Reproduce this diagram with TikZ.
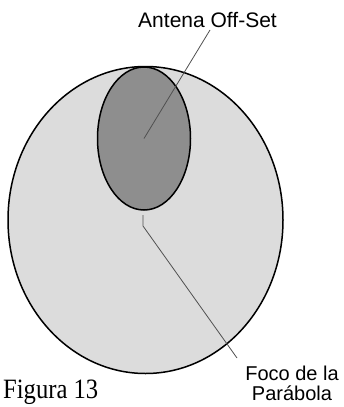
\documentclass[tikz,border=0pt]{standalone}
\usepackage{fontspec}
\setmainfont{Liberation Sans}
\newfontfamily\figserif{Liberation Serif}
\usetikzlibrary{shapes.geometric}
\definecolor{biggray}{HTML}{DCDCDC}
\definecolor{smallgray}{HTML}{8E8E8E}
\definecolor{leadgray}{HTML}{505050}
\tikzset{
  dish/.style={ellipse, draw=black, line width=1.5pt, inner sep=0pt},
  lead/.style={draw=leadgray, line width=0.8pt},
  lbl/.style={inner sep=0pt, align=center},
}
\begin{document}
\begin{tikzpicture}[x=1pt,y=-1pt]
\useasboundingbox (0,0) rectangle (343,407);
\node[dish, fill=biggray, minimum width=275pt, minimum height=307pt] (big) at (145.5,220) {};
\node[dish, fill=smallgray, minimum width=93pt, minimum height=143pt] (small) at (144,138.5) {};
\node[lbl, anchor=base, font=\fontsize{21}{21}\selectfont] (antena) at (207.5,27) {Antena Off-Set};
\node[lbl, anchor=north, font=\fontsize{20}{20}\selectfont] (foco) at (292,366) {Foco de la\\Parábola};
\node[inner sep=0pt, anchor=base west, font=\figserif\fontsize{28}{28}\selectfont, xscale=0.88] (fig) at (3,398) {Figura 13};
\coordinate (focus) at (143,215);
\coordinate (antenafoot) at (210,30);
\coordinate (focoend) at (237,358);
\draw[lead] (small.center) -- (antenafoot);
\draw[lead] (focus) -- ++(0,11) -- (focoend);
\end{tikzpicture}
\end{document}
